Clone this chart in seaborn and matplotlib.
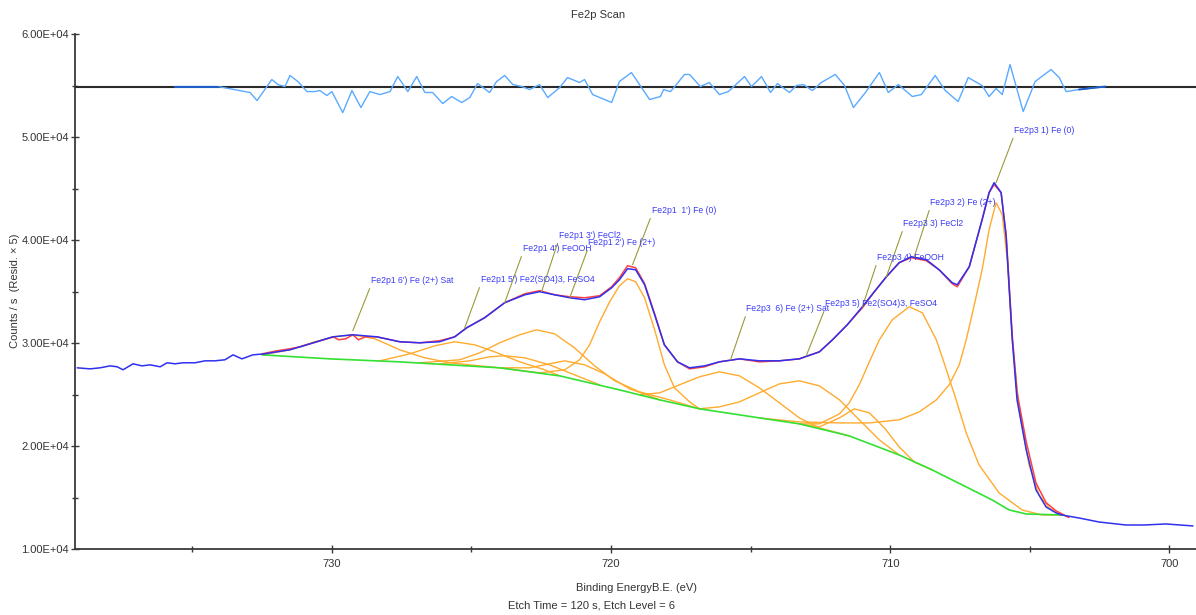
import matplotlib
matplotlib.use("Agg")
import matplotlib.pyplot as plt
import matplotlib.ticker as mticker
import seaborn as sns
import pandas as pd

# ---------------- data (binding energy eV, counts/s) ----------------
data_E = [739.12, 738.66, 738.30, 737.94, 737.69, 737.48, 737.12, 736.80, 736.51, 736.15,
          735.90, 735.62, 735.33, 734.90, 734.54, 734.19, 733.83, 733.54, 733.22, 732.83,
          732.40, 731.97, 731.50, 731.14, 730.54, 729.96, 729.25, 728.39, 727.57, 726.85,
          726.14, 725.60, 725.17, 724.53, 723.81, 723.09, 722.56, 722.02, 721.48, 720.95,
          720.41, 719.98, 719.70, 719.41, 719.12, 718.80, 718.44, 718.09, 717.62, 717.19,
          716.65, 716.12, 715.40, 714.69, 713.97, 713.26, 712.54, 712.07, 711.54, 711.00,
          710.57, 710.14, 709.68, 709.25, 708.71, 708.25, 707.78, 707.60, 707.17, 706.71,
          706.46, 706.28, 706.03, 705.85, 705.63, 705.46, 705.13, 704.78, 704.42, 704.06,
          703.85, 703.24, 702.52, 701.56, 700.91, 700.13, 699.16]
data_C = [27590, 27490, 27590, 27780, 27690, 27400, 27980, 27780, 27880, 27690,
          28080, 27980, 28080, 28080, 28270, 28270, 28370, 28850, 28460, 28850,
          28950, 29140, 29340, 29630, 30120, 30600, 30800, 30600, 30120, 30020,
          30120, 30600, 31480, 32450, 33910, 34680, 34980, 34680, 34390, 34200,
          34490, 35360, 36140, 37210, 37110, 35660, 32740, 29820, 28170, 27590,
          27780, 28170, 28460, 28270, 28270, 28460, 29140, 30310, 31770, 33520,
          34980, 36430, 37800, 38380, 38090, 37110, 35850, 35660, 37410, 41970,
          44600, 45570, 44600, 40320, 30310, 24480, 19620, 15730, 14080, 13500,
          13300, 13010, 12620, 12330, 12330, 12430, 12240]

red_E = [732.50, 731.97, 731.50, 731.14, 730.54, 729.96, 729.75, 729.50, 729.25, 729.05,
         728.80, 728.39, 727.57, 726.85, 726.14, 725.60, 725.17, 724.53, 723.81, 723.09,
         722.56, 722.02, 721.48, 720.95, 720.41, 719.98, 719.70, 719.41, 719.12, 718.80,
         718.44, 718.09, 717.62, 717.19, 716.65, 716.12, 715.40, 714.69, 713.97, 713.26,
         712.54, 712.07, 711.54, 711.00, 710.57, 710.14, 709.68, 709.25, 708.71, 708.25,
         707.78, 707.60, 707.17, 706.71, 706.46, 706.28, 706.03, 705.85, 705.63, 705.46,
         705.13, 704.78, 704.42, 704.06, 703.60]
red_C = [28950, 29240, 29440, 29630, 30120, 30600, 30310, 30410, 30800, 30310,
         30600, 30600, 30120, 30020, 30220, 30600, 31480, 32450, 33910, 34780,
         35080, 34680, 34490, 34390, 34590, 35460, 36340, 37500, 37310, 35760,
         32840, 29820, 28170, 27490, 27690, 28170, 28460, 28170, 28270, 28460,
         29140, 30310, 31770, 33420, 34980, 36430, 37800, 38280, 37990, 37110,
         35750, 35460, 37410, 41970, 44600, 45380, 44600, 40520, 30700, 25200,
         20400, 16400, 14500, 13700, 13050]

bg_E = [732.50, 730.07, 727.57, 725.78, 723.99, 721.84, 719.70, 718.26, 716.83, 714.69,
        713.26, 711.47, 709.68, 708.50, 707.28, 706.35, 705.74, 705.13, 703.85]
bg_C = [28850, 28460, 28170, 27880, 27590, 26810, 25450, 24480, 23610, 22730,
        22150, 20980, 19130, 17680, 16030, 14760, 13790, 13400, 13300]

# fitted components (each drawn on top of the background)
p3_fe0_E = [714.69, 713.26, 711.82, 710.75, 709.68, 708.96, 708.35, 707.89, 707.53, 707.28,
            706.99, 706.71, 706.46, 706.21, 705.99, 705.81, 705.63, 705.38, 705.03, 704.67,
            704.31, 703.85]
p3_fe0_C = [22730, 22340, 22240, 22240, 22540, 23310, 24480, 25940, 27880, 30310,
            33710, 37110, 41000, 43620, 42460, 38090, 30310, 23510, 18160, 15250,
            13980, 13300]
p3_fe2_E = [713.26, 712.54, 711.82, 711.47, 711.11, 710.75, 710.39, 709.93, 709.32, 708.85,
            708.35, 707.99, 707.64, 707.28, 706.82, 706.10, 705.28, 704.56, 703.85]
p3_fe2_C = [22150, 22150, 23120, 24190, 25940, 28170, 30310, 32250, 33520, 32930,
            30310, 27400, 24480, 21270, 18160, 15440, 13790, 13300, 13300]
p3_small_E = [713.26, 712.54, 711.82, 711.29, 710.75, 710.21, 709.68, 709.14, 708.50]
p3_small_C = [22150, 21860, 22730, 23610, 23220, 21760, 19910, 18450, 17680]
p3_so4_E = [716.83, 716.12, 715.40, 714.69, 713.97, 713.26, 712.54, 711.82, 711.11, 710.39, 709.68]
p3_so4_C = [23610, 23800, 24290, 25160, 26030, 26330, 25840, 24480, 22540, 20590, 19130]
p3_sat_E = [718.98, 718.26, 717.55, 716.83, 716.12, 715.40, 714.69, 713.97, 713.26, 712.54, 711.47]
p3_sat_C = [24970, 25160, 25940, 26720, 27200, 26810, 25650, 24190, 22730, 21760, 20980]
p1_fe0_E = [723.99, 722.56, 721.66, 721.13, 720.77, 720.41, 720.05, 719.70, 719.41, 719.12,
            718.80, 718.44, 718.09, 717.73, 717.19, 716.83]
p1_fe0_C = [27590, 27100, 27400, 28370, 29820, 32060, 34000, 35560, 36240, 35950,
            34390, 31280, 27880, 25650, 24290, 23610]
p1_fe2_E = [726.85, 725.42, 724.70, 723.99, 723.27, 722.67, 722.02, 721.31, 720.59, 719.87,
            718.98, 717.91, 716.83]
p1_fe2_C = [28080, 28370, 29050, 30020, 30800, 31280, 30890, 29530, 27780, 26330,
            25260, 24480, 23610]
p1_cl_E = [723.99, 722.92, 722.20, 721.66, 720.95, 720.23, 719.34, 718.62, 718.26]
p1_cl_C = [27590, 27590, 27980, 28270, 27880, 27010, 25550, 24870, 24480]
p1_ooh_E = [726.14, 725.06, 724.35, 723.81, 723.09, 722.20, 721.31, 720.41]
p1_ooh_C = [27980, 28270, 28660, 28760, 28560, 27880, 26910, 25940]
p1_so4_E = [728.28, 727.21, 726.31, 725.60, 724.88, 724.17, 723.27, 722.38, 721.84]
p1_so4_C = [28270, 28950, 29730, 30120, 29820, 29140, 28170, 27400, 26810]
p1_sat_E = [732.50, 731.50, 730.61, 729.89, 729.25, 728.46, 727.57, 726.67, 725.78, 724.70, 723.99]
p1_sat_C = [28850, 29340, 30120, 30600, 30800, 30410, 29340, 28560, 28080, 27780, 27590]

# residual (x5), drawn around its zero line
resid_zero = 54900
resid_E = [735.62, 734.08, 732.93, 732.68, 732.40, 732.15, 731.93, 731.68, 731.50, 731.22,
           730.89, 730.61, 730.43, 730.18, 730.00, 729.61, 729.28, 728.96, 728.64, 728.28,
           727.92, 727.64, 727.28, 726.96, 726.67, 726.39, 726.03, 725.71, 725.35, 725.06,
           724.78, 724.35, 724.10, 723.81, 723.52, 723.20, 722.92, 722.56, 722.27, 721.84,
           721.56, 721.13, 720.95, 720.66, 719.98, 719.70, 719.27, 718.91, 718.62, 718.23,
           718.12, 717.87, 717.69, 717.37, 717.19, 716.80, 716.48, 716.12, 715.80, 715.22,
           714.97, 714.61, 714.29, 714.04, 713.61, 713.36, 713.11, 712.79, 712.47, 711.97,
           711.64, 711.32, 710.89, 710.39, 710.07, 709.71, 709.21, 708.89, 708.39, 708.03,
           707.57, 707.21, 706.71, 706.46, 706.21, 705.99, 705.71, 705.24, 704.81, 704.24,
           703.95, 703.70, 703.24, 702.30]
resid_dev = [0, 0, -580, -1360, -290, 680, 190, 0, 1070, 490,
             -490, -490, -390, -870, -490, -2530, -390, -2040, -490, -780,
             -490, 970, -490, 970, -580, -580, -1650, -970, -1550, -1070,
             290, -580, 490, 1070, 190, 0, -290, 190, -1070, -100,
             870, 390, 680, -780, -1550, 490, 1360, -100, -1260, -970,
             -290, -490, 100, 1170, 1170, 0, 390, -780, -490, 970,
             0, 970, -580, 290, -580, 100, 190, -390, 390, 1170,
             100, -2040, -580, 1360, -580, 190, -970, -780, 1070, -390,
             -1460, 870, 100, -970, -190, -780, 2140, -2430, 490, 1650,
             870, -490, -290, 0]

label_texts = ["Fe2p3 1) Fe (0)", "Fe2p3 2) Fe (2+)", "Fe2p3 3) FeCl2", "Fe2p3 4) FeOOH",
               "Fe2p3 5) Fe2(SO4)3, FeSO4", "Fe2p3  6) Fe (2+) Sat", "Fe2p1  1') Fe (0)",
               "Fe2p1 2') Fe (2+)", "Fe2p1 3') FeCl2", "Fe2p1 4') FeOOH",
               "Fe2p1 5') Fe2(SO4)3, FeSO4", "Fe2p1 6') Fe (2+) Sat"]
label_text_E = [705.56, 708.57, 709.53, 710.47, 712.33, 715.15, 718.55, 720.81, 721.88, 723.17, 724.67, 728.60]
label_text_C = [50620, 43620, 41580, 38280, 33810, 33320, 42850, 39740, 40420, 39150, 36140, 36040]
label_peak_E = [706.21, 709.14, 710.14, 711.00, 713.01, 715.72, 719.23, 721.48, 722.49, 723.81, 725.24, 729.25]
label_peak_C = [45570, 38380, 36430, 33520, 28760, 28370, 37600, 34390, 34980, 33910, 31480, 31190]

x_ticks = [730, 720, 710, 700]

# ---------------- style ----------------
sns.set_theme(style="white")
plt.rcParams["font.family"] = ["Liberation Sans", "DejaVu Sans"]

W, H = 1196, 615
fig = plt.figure(figsize=(W / 100, H / 100), dpi=100)
ax = fig.add_axes([75 / W, (H - 549) / H, 1 - 75 / W, (549 - 34) / H])

ORANGE = "#ffab2e"

components = [(p1_sat_E, p1_sat_C), (p1_so4_E, p1_so4_C), (p1_ooh_E, p1_ooh_C),
              (p1_cl_E, p1_cl_C), (p1_fe2_E, p1_fe2_C), (p1_fe0_E, p1_fe0_C),
              (p3_sat_E, p3_sat_C), (p3_so4_E, p3_so4_C), (p3_small_E, p3_small_C),
              (p3_fe2_E, p3_fe2_C), (p3_fe0_E, p3_fe0_C)]
for cE, cC in components:
    sns.lineplot(x=cE, y=cC, ax=ax, color=ORANGE, lw=1.0, sort=False, estimator=None, zorder=2)

sns.lineplot(x=bg_E, y=bg_C, ax=ax, color="#33e033", lw=1.2, sort=False, estimator=None, zorder=3)
sns.lineplot(x=red_E, y=red_C, ax=ax, color="#ff4040", lw=1.1, sort=False, estimator=None, zorder=4)
sns.lineplot(x=data_E, y=data_C, ax=ax, color="#3030f0", lw=1.1, sort=False, estimator=None, zorder=5)

# residual
ax.axhline(resid_zero, color="#2a2a2a", lw=1.5, zorder=3)
resid_df = pd.DataFrame({"E": resid_E, "R": [resid_zero + d for d in resid_dev]})
sns.lineplot(data=resid_df, x="E", y="R", ax=ax, color="#5aaaff", lw=1.0, sort=False,
             estimator=None, zorder=4)
sns.lineplot(data=resid_df.iloc[:2], x="E", y="R", ax=ax, color="#1f5fc8", lw=1.4,
             sort=False, estimator=None, zorder=5)
sns.lineplot(data=resid_df.iloc[-2:], x="E", y="R", ax=ax, color="#1f5fc8", lw=1.4,
             sort=False, estimator=None, zorder=5)

# peak labels
for txt, tE, tC, pE, pC in zip(label_texts, label_text_E, label_text_C, label_peak_E, label_peak_C):
    ax.annotate(txt, xy=(pE, pC), xytext=(tE, tC), textcoords="data",
                ha="left", va="center", fontsize=6.2, color="#3b3bf5", zorder=6,
                arrowprops=dict(arrowstyle="-", color="#9a9a3c", lw=0.8,
                                relpos=(0, 0), shrinkA=0, shrinkB=0))

# axes
ax.set_xlim(739.2, 699.05)
ax.set_ylim(10000, 60000)
ax.set_xticks(x_ticks)
ax.xaxis.set_minor_locator(mticker.MultipleLocator(5))
ax.yaxis.set_major_locator(mticker.MultipleLocator(10000))
ax.yaxis.set_minor_locator(mticker.MultipleLocator(5000))
ax.yaxis.set_major_formatter(mticker.FuncFormatter(lambda v, p: f"{v:.2E}"))
ax.set_xlabel("")
ax.set_ylabel("")
for s in ["top", "right"]:
    ax.spines[s].set_visible(False)
for s in ["left", "bottom"]:
    ax.spines[s].set_color("#3a3a3a")
    ax.spines[s].set_linewidth(1.3)
ax.tick_params(which="both", bottom=True, left=True, direction="inout", color="#3a3a3a",
               width=1.0, labelsize=8, labelcolor="#333333")
ax.tick_params(which="major", length=6)
ax.tick_params(which="minor", length=5)
ax.tick_params(axis="x", which="major", pad=4)
ax.tick_params(axis="y", which="major", pad=1.5)

fig.text(598 / W, 1 - 15 / H, "Fe2p Scan", ha="center", va="center", fontsize=8, color="#333333")
fig.text(15 / W, 1 - 291 / H, "Counts / s  (Resid. × 5)", rotation=90, ha="center",
         va="center", fontsize=8, color="#333333")
fig.text(636 / W, 1 - 588 / H, "Binding EnergyB.E. (eV)", ha="center", va="center",
         fontsize=8, color="#333333")
fig.text(591 / W, 1 - 605 / H, "Etch Time = 120 s, Etch Level = 6", ha="center", va="center",
         fontsize=8, color="#333333")

fig.savefig("out.png", dpi=100)
